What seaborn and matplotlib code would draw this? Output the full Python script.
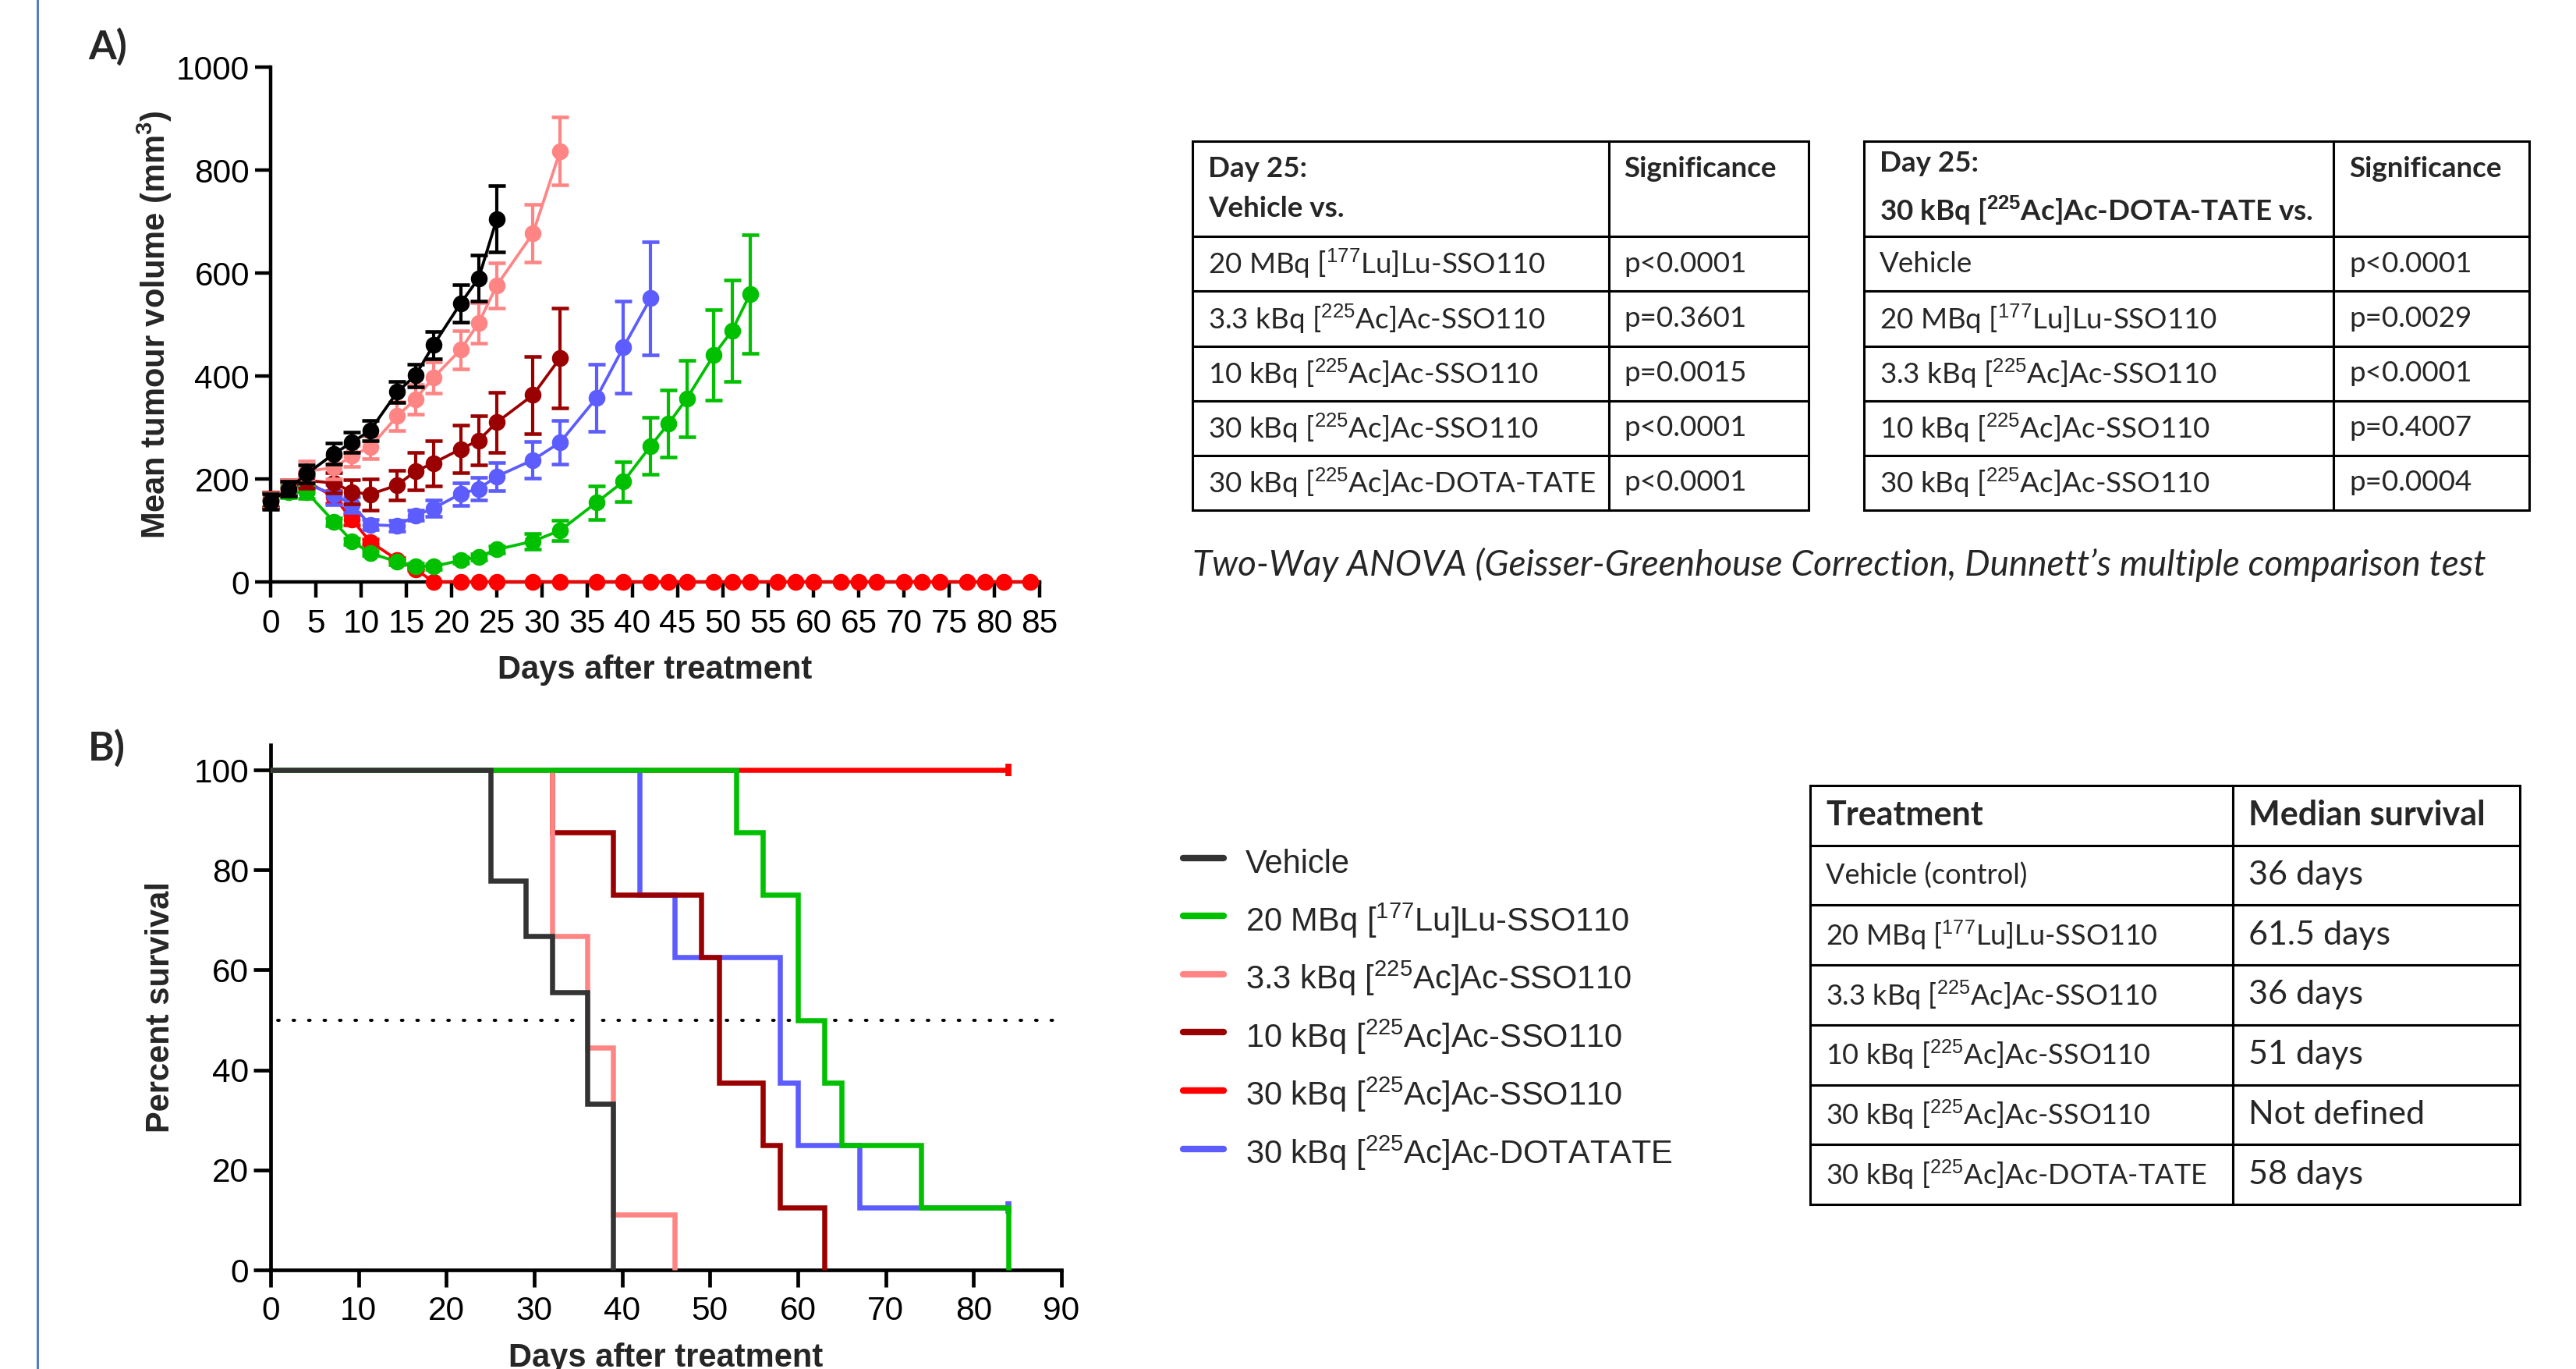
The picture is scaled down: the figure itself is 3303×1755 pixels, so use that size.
import matplotlib
matplotlib.use("Agg")
import matplotlib.pyplot as plt
import seaborn as sns
import numpy as np
from matplotlib.lines import Line2D

sns.set_theme(style="ticks")
plt.rcParams["font.family"] = ["Liberation Sans", "DejaVu Sans"]
plt.rcParams["mathtext.fontset"] = "custom"
plt.rcParams["mathtext.rm"] = "Liberation Sans"
plt.rcParams["mathtext.bf"] = "Liberation Sans:bold"
plt.rcParams["mathtext.it"] = "Liberation Sans:italic"

W, H = 3303, 1755

# --- Panel A: mean tumour volume (mm3) +/- SEM ---
days = [0, 2, 4, 7, 9, 11, 14, 16, 18, 21, 23, 25, 29, 32, 36, 39, 42, 44, 46,
        49, 51, 53, 56, 58, 60, 63, 65, 67, 70, 72, 74, 77, 79, 81, 84]

vehicle_mean = [156, 181, 210, 249, 271, 294, 369, 401, 460, 541, 590, 705]
vehicle_sem = [15, 15, 18, 20, 20, 20, 21, 22, 26, 36, 45, 64]

lu20_mean = [160, 175, 174, 117, 79, 56, 39, 31, 30, 42, 49, 63, 79, 100, 154,
             195, 264, 308, 356, 441, 488, 559]
lu20_sem = [14, 12, 12, 8, 6, 5, 5, 5, 5, 6, 6, 7, 15, 20, 33, 39, 55, 65, 74,
            88, 98, 115]

ac33_mean = [158, 183, 215, 222, 245, 262, 322, 355, 397, 451, 503, 576, 677, 837]
ac33_sem = [15, 15, 20, 22, 20, 22, 28, 29, 30, 37, 39, 44, 56, 66]

ac10_mean = [160, 183, 197, 192, 175, 170, 188, 215, 231, 258, 275, 310, 363, 435]
ac10_sem = [15, 15, 15, 20, 24, 30, 29, 36, 44, 46, 48, 58, 75, 97]

ac30_mean = [158, 182, 195, 165, 121, 78, 43, 25] + [0] * 27
ac30_sem = [14, 12, 12, 12, 10, 6, 4, 3] + [0] * 27

dota_mean = [157, 180, 190, 170, 150, 111, 109, 129, 143, 171, 181, 205, 237,
             271, 357, 456, 551]
dota_sem = [15, 15, 15, 20, 15, 10, 10, 10, 16, 22, 22, 27, 35, 42, 65, 89, 110]

# --- Panel B: Kaplan-Meier survival (%) ---
km_vehicle_t = [0, 25, 29, 32, 36, 39]
km_vehicle_s = [100, 77.8, 66.7, 55.6, 33.3, 0]
km_lu20_t = [0, 53, 56, 60, 63, 65, 74, 84]
km_lu20_s = [100, 87.5, 75, 50, 37.5, 25, 12.5, 0]
km_ac33_t = [0, 32, 36, 39, 46]
km_ac33_s = [100, 66.7, 44.4, 11.1, 0]
km_ac10_t = [0, 32, 39, 49, 51, 56, 58, 63]
km_ac10_s = [100, 87.5, 75, 62.5, 37.5, 25, 12.5, 0]
km_ac30_t = [0, 84]
km_ac30_s = [100, 100]
km_dota_t = [0, 42, 46, 58, 60, 67, 84]
km_dota_s = [100, 75, 62.5, 37.5, 25, 12.5, 12.5]

labels = ["Vehicle",
          "20 MBq [$^{177}$Lu]Lu-SSO110",
          "3.3 kBq [$^{225}$Ac]Ac-SSO110",
          "10 kBq [$^{225}$Ac]Ac-SSO110",
          "30 kBq [$^{225}$Ac]Ac-SSO110",
          "30 kBq [$^{225}$Ac]Ac-DOTATATE"]
colors = ["#000000", "#00C000", "#FF8585", "#9B0000", "#FF0000", "#5C5CFF"]
colors_km = ["#333333", "#00C000", "#FF8585", "#9B0000", "#FF0000", "#5C5CFF"]

# --- tables ---
tab1 = [["Day 25:\nVehicle vs.", "Significance\n"],
        ["20 MBq [$^{177}$Lu]Lu-SSO110", "p<0.0001"],
        ["3.3 kBq [$^{225}$Ac]Ac-SSO110", "p=0.3601"],
        ["10 kBq [$^{225}$Ac]Ac-SSO110", "p=0.0015"],
        ["30 kBq [$^{225}$Ac]Ac-SSO110", "p<0.0001"],
        ["30 kBq [$^{225}$Ac]Ac-DOTA-TATE", "p<0.0001"]]
tab2 = [["Day 25:\n30 kBq [$^{\\mathbf{225}}$Ac]Ac-DOTA-TATE vs.", "Significance\n"],
        ["Vehicle", "p<0.0001"],
        ["20 MBq [$^{177}$Lu]Lu-SSO110", "p=0.0029"],
        ["3.3 kBq [$^{225}$Ac]Ac-SSO110", "p<0.0001"],
        ["10 kBq [$^{225}$Ac]Ac-SSO110", "p=0.4007"],
        ["30 kBq [$^{225}$Ac]Ac-SSO110", "p=0.0004"]]
tab3 = [["Treatment", "Median survival"],
        ["Vehicle (control)", "36 days"],
        ["20 MBq [$^{177}$Lu]Lu-SSO110", "61.5 days"],
        ["3.3 kBq [$^{225}$Ac]Ac-SSO110", "36 days"],
        ["10 kBq [$^{225}$Ac]Ac-SSO110", "51 days"],
        ["30 kBq [$^{225}$Ac]Ac-SSO110", "Not defined"],
        ["30 kBq [$^{225}$Ac]Ac-DOTA-TATE", "58 days"]]
caption = "Two-Way ANOVA (Geisser-Greenhouse Correction, Dunnett\u2019s multiple comparison test"


def px_rect(x0, y0, x1, y1):
    return [x0 / W, 1 - y1 / H, (x1 - x0) / W, (y1 - y0) / H]


def style_axis(ax, ticklen, tickw):
    sns.despine(ax=ax)
    for s in ["left", "bottom"]:
        ax.spines[s].set_linewidth(tickw)
        ax.spines[s].set_color("black")
    ax.tick_params(length=ticklen, width=tickw, labelsize=30.5, colors="black")
    ax.set_facecolor("none")


fig = plt.figure(figsize=(W / 100, H / 100), dpi=100)
fig.patch.set_facecolor("white")

# ---------- Panel A ----------
axA = fig.add_axes(px_rect(347, 86, 1333, 746))
series_a = [(ac30_mean, ac30_sem, colors[4]), (dota_mean, dota_sem, colors[5]),
            (lu20_mean, lu20_sem, colors[1]), (ac10_mean, ac10_sem, colors[3]),
            (ac33_mean, ac33_sem, colors[2]), (vehicle_mean, vehicle_sem, colors[0])]
for i, (m, e, c) in enumerate(series_a):
    x = np.array(days[:len(m)])
    m = np.array(m)
    e = np.array(e)
    z = 3 + i
    ok = e > 0
    axA.errorbar(x[ok], m[ok], yerr=e[ok], fmt="none", ecolor=c, elinewidth=3.0,
                 capsize=8, capthick=3.3, zorder=z, clip_on=False)
    sns.lineplot(x=x, y=m, ax=axA, color=c, lw=2.7, marker="o", markersize=15.5,
                 markeredgewidth=0, errorbar=None, sort=False, zorder=z + 0.5,
                 clip_on=False)

axA.set_xlim(0, 85)
axA.set_ylim(0, 1000)
axA.set_xticks(range(0, 86, 5))
axA.set_yticks(range(0, 1001, 200))
style_axis(axA, 14.4, 3.2)
axA.tick_params(axis="x", pad=10)
axA.tick_params(axis="y", pad=5)
axA.set_xlabel("Days after treatment", fontsize=30, fontweight="bold", labelpad=14)
axA.set_ylabel("Mean tumour volume (mm$^{\\mathbf{3}}$)", fontsize=30,
               fontweight="bold", labelpad=2)

# ---------- Panel B ----------
axB = fig.add_axes(px_rect(347, 955, 1361, 1628))
km = [(km_ac30_t, km_ac30_s, colors_km[4], True),
      (km_dota_t, km_dota_s, colors_km[5], True),
      (km_ac10_t, km_ac10_s, colors_km[3], False),
      (km_ac33_t, km_ac33_s, colors_km[2], False),
      (km_lu20_t, km_lu20_s, colors_km[1], False),
      (km_vehicle_t, km_vehicle_s, colors_km[0], False)]
for i, (t, s, c, censored) in enumerate(km):
    sns.lineplot(x=t, y=s, ax=axB, color=c, lw=4.7, drawstyle="steps-post",
                 errorbar=None, sort=False, zorder=3 + i, clip_on=False,
                 solid_joinstyle="miter", solid_capstyle="butt")
    if censored:
        axB.plot(t[-1], s[-1], marker="|", markersize=11, markeredgewidth=5.5,
                 color=c, zorder=3 + i, clip_on=False)
axB.plot([0.8, 89.5], [50, 50], color="black", lw=2.8,
         linestyle=(0, (0.5, 4.6)), dash_capstyle="round", zorder=2)
axB.set_xlim(0, 90)
axB.set_ylim(0, 105)
axB.set_xticks(range(0, 91, 10))
axB.set_yticks(range(0, 101, 20))
style_axis(axB, 16, 3.4)
axB.tick_params(axis="x", pad=8)
axB.tick_params(axis="y", pad=4)
axB.set_xlabel("Days after treatment", fontsize=30, fontweight="bold", labelpad=14)
axB.set_ylabel("Percent survival", fontsize=30, fontweight="bold", labelpad=16)

handles = [Line2D([0], [0], color=c, lw=6) for c in colors_km]
fig.legend(handles, labels, loc="upper left", bbox_to_anchor=(1517 / W, 1 - 1080 / H),
           frameon=False, fontsize=30, handlelength=1.25, handleheight=1.5,
           handletextpad=0.66, labelspacing=0.57, borderpad=0, borderaxespad=0)

# ---------- tables ----------
table_font = ["Lato", "DejaVu Sans"]


def draw_table(rect, rows, col_px, row_px, body_fs, col2_fs, head_fs, linesp=1.2):
    ax = fig.add_axes(px_rect(*rect))
    ax.axis("off")
    tbl = ax.table(cellText=rows, cellLoc="left",
                   colWidths=[w / sum(col_px) for w in col_px], bbox=[0, 0, 1, 1])
    tbl.auto_set_font_size(False)
    for (r, c), cell in tbl.get_celld().items():
        cell.set_height(row_px[r] / sum(row_px))
        cell.set_linewidth(2.2)
        cell.set_edgecolor("black")
        cell.PAD = 20 / col_px[c]
        txt = cell.get_text()
        txt.set_fontfamily(table_font)
        txt.set_linespacing(linesp)
        if r == 0:
            txt.set_fontweight("bold")
            txt.set_fontsize(head_fs)
        else:
            txt.set_fontsize(col2_fs if c == 1 else body_fs)
    return tbl


draw_table((1529, 181, 2319, 654), tab1, [533, 256], [122, 70, 70, 70, 70, 70],
           26.5, 26.5, 26.5, linesp=1.65)
draw_table((2390, 181, 3243, 654), tab2, [602, 251], [122, 70, 70, 70, 70, 70],
           26.5, 26.5, 26.5, linesp=1.65)
draw_table((2321, 1007, 3231, 1544), tab3, [542, 368], [77] * 7, 26, 31, 31)

fig.text(1529 / W, 1 - 724 / H, caption, ha="left", va="center", fontsize=33,
         style="italic", family=table_font)

# panel letters and margin rule
fig.text(113 / W, 1 - 36 / H, "A)", ha="left", va="top", fontsize=37,
         fontweight="bold", family=table_font)
fig.text(113 / W, 1 - 935 / H, "B)", ha="left", va="top", fontsize=37,
         fontweight="bold", family=table_font)
fig.add_artist(Line2D([48 / W, 48 / W], [0, 1], color="#4472C4", lw=2))

fig.savefig("out.png", dpi=100)
